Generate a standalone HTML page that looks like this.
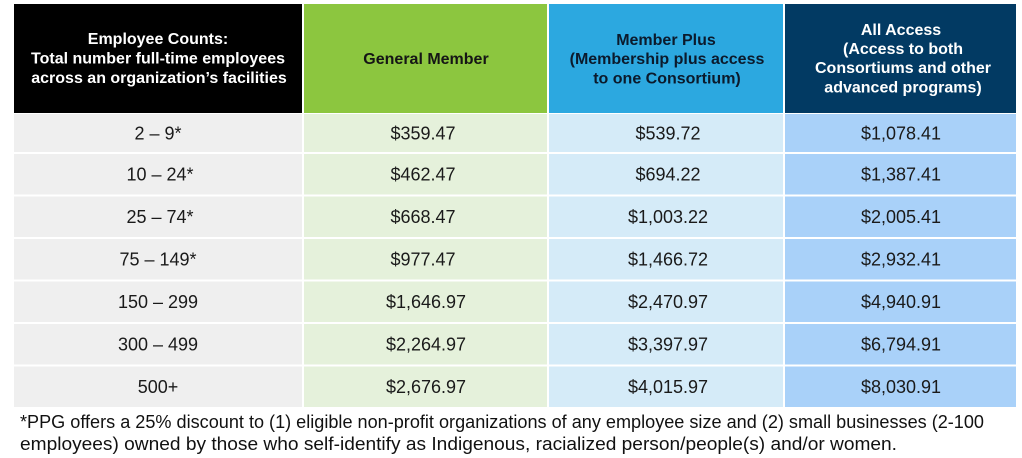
<!DOCTYPE html>
<html>
<head>
<meta charset="utf-8">
<style>
  html, body { margin:0; padding:0; background:#ffffff; }
  body { width:1022px; height:458px; overflow:hidden; }
  svg { display:block; }
  text { font-family: "Liberation Sans", Arial, sans-serif; }
  .h { font-size:16px; font-weight:bold; text-anchor:middle; }
  .d { font-size:18px; text-anchor:middle; fill:#1a1a1a; }
  .f { font-size:18px; fill:#111; }
</style>
</head>
<body>
<svg width="1022" height="458" viewBox="0 0 1022 458" xmlns="http://www.w3.org/2000/svg">
  <rect x="0" y="0" width="1022" height="458" fill="#ffffff"/>

  <!-- Header -->
  <rect x="14" y="4" width="288" height="109" fill="#000000"/>
  <rect x="304" y="4" width="243" height="109" fill="#8cc63f"/>
  <rect x="549" y="4" width="234" height="109" fill="#2ca8e0"/>
  <rect x="785" y="4" width="231" height="109" fill="#023a63"/>

  <text class="h" x="158" y="44" fill="#ffffff">Employee Counts:</text>
  <text class="h" x="158" y="63.5" fill="#ffffff">Total number full-time employees</text>
  <text class="h" x="159" y="83" fill="#ffffff">across an organization’s facilities</text>

  <text class="h" x="426" y="64" fill="#151515">General Member</text>

  <text class="h" x="666" y="45" fill="#0b1a2c">Member Plus</text>
  <text class="h" x="667" y="64" fill="#0b1a2c">(Membership plus access</text>
  <text class="h" x="667" y="83.5" fill="#0b1a2c">to one Consortium)</text>

  <text class="h" x="901" y="35" fill="#ffffff">All Access</text>
  <text class="h" x="903" y="54" fill="#ffffff">(Access to both</text>
  <text class="h" x="903" y="73" fill="#ffffff">Consortiums and other</text>
  <text class="h" x="903" y="92.5" fill="#ffffff">advanced programs)</text>

  <!-- Row backgrounds -->
  <g>
    <rect x="14" y="114" width="288" height="38" fill="#efefef"/>
    <rect x="304" y="114" width="243" height="38" fill="#e5f1db"/>
    <rect x="549" y="114" width="234" height="38" fill="#d5ebf8"/>
    <rect x="785" y="114" width="231" height="38" fill="#a9d1f9"/>

    <rect x="14" y="154" width="288" height="40.5" fill="#efefef"/>
    <rect x="304" y="154" width="243" height="40.5" fill="#e5f1db"/>
    <rect x="549" y="154" width="234" height="40.5" fill="#d5ebf8"/>
    <rect x="785" y="154" width="231" height="40.5" fill="#a9d1f9"/>

    <rect x="14" y="196.5" width="288" height="40.5" fill="#efefef"/>
    <rect x="304" y="196.5" width="243" height="40.5" fill="#e5f1db"/>
    <rect x="549" y="196.5" width="234" height="40.5" fill="#d5ebf8"/>
    <rect x="785" y="196.5" width="231" height="40.5" fill="#a9d1f9"/>

    <rect x="14" y="239" width="288" height="40.5" fill="#efefef"/>
    <rect x="304" y="239" width="243" height="40.5" fill="#e5f1db"/>
    <rect x="549" y="239" width="234" height="40.5" fill="#d5ebf8"/>
    <rect x="785" y="239" width="231" height="40.5" fill="#a9d1f9"/>

    <rect x="14" y="281.5" width="288" height="40.5" fill="#efefef"/>
    <rect x="304" y="281.5" width="243" height="40.5" fill="#e5f1db"/>
    <rect x="549" y="281.5" width="234" height="40.5" fill="#d5ebf8"/>
    <rect x="785" y="281.5" width="231" height="40.5" fill="#a9d1f9"/>

    <rect x="14" y="324" width="288" height="40.5" fill="#efefef"/>
    <rect x="304" y="324" width="243" height="40.5" fill="#e5f1db"/>
    <rect x="549" y="324" width="234" height="40.5" fill="#d5ebf8"/>
    <rect x="785" y="324" width="231" height="40.5" fill="#a9d1f9"/>

    <rect x="14" y="366.5" width="288" height="40.5" fill="#efefef"/>
    <rect x="304" y="366.5" width="243" height="40.5" fill="#e5f1db"/>
    <rect x="549" y="366.5" width="234" height="40.5" fill="#d5ebf8"/>
    <rect x="785" y="366.5" width="231" height="40.5" fill="#a9d1f9"/>
  </g>

  <!-- Row text -->
  <g>
    <text class="d" x="158" y="139.5">2 – 9*</text>
    <text class="d" x="423" y="139.5">$359.47</text>
    <text class="d" x="668" y="139.5">$539.72</text>
    <text class="d" x="901" y="139.5">$1,078.41</text>

    <text class="d" x="160" y="180.6">10 – 24*</text>
    <text class="d" x="423" y="180.6">$462.47</text>
    <text class="d" x="668" y="180.6">$694.22</text>
    <text class="d" x="901" y="180.6">$1,387.41</text>

    <text class="d" x="160" y="223.1">25 – 74*</text>
    <text class="d" x="423" y="223.1">$668.47</text>
    <text class="d" x="668" y="223.1">$1,003.22</text>
    <text class="d" x="901" y="223.1">$2,005.41</text>

    <text class="d" x="158" y="265.6">75 – 149*</text>
    <text class="d" x="423" y="265.6">$977.47</text>
    <text class="d" x="668" y="265.6">$1,466.72</text>
    <text class="d" x="901" y="265.6">$2,932.41</text>

    <text class="d" x="158" y="308.1">150 – 299</text>
    <text class="d" x="426" y="308.1">$1,646.97</text>
    <text class="d" x="668" y="308.1">$2,470.97</text>
    <text class="d" x="901" y="308.1">$4,940.91</text>

    <text class="d" x="158" y="350.6">300 – 499</text>
    <text class="d" x="426" y="350.6">$2,264.97</text>
    <text class="d" x="668" y="350.6">$3,397.97</text>
    <text class="d" x="901" y="350.6">$6,794.91</text>

    <text class="d" x="158" y="393.1">500+</text>
    <text class="d" x="426" y="393.1">$2,676.97</text>
    <text class="d" x="668" y="393.1">$4,015.97</text>
    <text class="d" x="901" y="393.1">$8,030.91</text>
  </g>

  <!-- Footer -->
  <text class="f" x="20" y="428" textLength="964" lengthAdjust="spacingAndGlyphs">*PPG offers a 25% discount to (1) eligible non-profit organizations of any employee size and (2) small businesses (2-100</text>
  <text class="f" x="20" y="450" textLength="877" lengthAdjust="spacingAndGlyphs">employees) owned by those who self-identify as Indigenous, racialized person/people(s) and/or women.</text>
</svg>
</body>
</html>
